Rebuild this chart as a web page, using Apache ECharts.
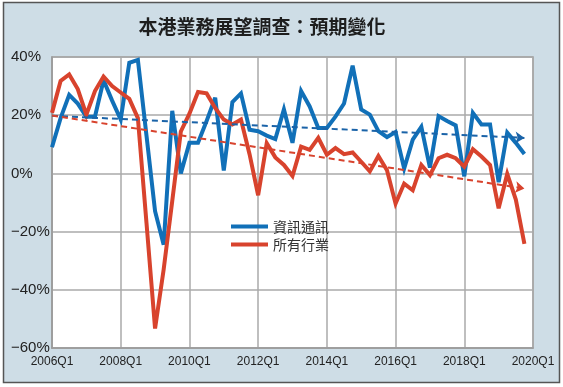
<!DOCTYPE html>
<html>
<head>
<meta charset="utf-8">
<script src="https://cdn.jsdelivr.net/npm/echarts@6/dist/echarts.min.js"></script>
<style>
html,body{margin:0;padding:0;background:#fff;}
#chart{width:563px;height:387px;}
</style>
</head>
<body>
<div id="chart"></div>
<script>
const categories = [
 '2006Q1','2006Q2','2006Q3','2006Q4','2007Q1','2007Q2','2007Q3','2007Q4',
 '2008Q1','2008Q2','2008Q3','2008Q4','2009Q1','2009Q2','2009Q3','2009Q4',
 '2010Q1','2010Q2','2010Q3','2010Q4','2011Q1','2011Q2','2011Q3','2011Q4',
 '2012Q1','2012Q2','2012Q3','2012Q4','2013Q1','2013Q2','2013Q3','2013Q4',
 '2014Q1','2014Q2','2014Q3','2014Q4','2015Q1','2015Q2','2015Q3','2015Q4',
 '2016Q1','2016Q2','2016Q3','2016Q4','2017Q1','2017Q2','2017Q3','2017Q4',
 '2018Q1','2018Q2','2018Q3','2018Q4','2019Q1','2019Q2','2019Q3','2019Q4',
 '2020Q1'
];
const ictValues = [
 9.0, 19, 27, 24, 19.5, 19.5, 32, 25,
 18.5, 38, 39, 13, -13, -24.5, 21.5, 0,
 10.5, 10.5, 18, 26, 1, 24.5, 27.5, 15,
 14.5, 13, 11.8, 22, 10.5, 28.3, 23, 15.6,
 15.6, 19.5, 24, 37, 22, 20.2, 14.5, 12.5,
 14.2, 1.7, 11.6, 16, 2, 19.7, 18, 16.5,
 -1, 20.8, 16.8, 16.8, -3, 14, 10.5, 6.7
];
const allValues = [
 20.8, 31.8, 34, 29, 20.2, 28.3, 33.3, 30,
 27.8, 25.6, 19, -17, -53.3, -33, -9.5, 14.4,
 20.5, 28, 27.5, 22.5, 18.5, 16.8, 18.5, 6.6,
 -7.5, 10.4, 5.5, 2.9, -0.9, 9.2, 8.1, 12.2,
 6.4, 8.7, 6.6, 7.2, 4, 0.7, 6, 1.1,
 -10.4, -3.5, -5.8, 2.9, -0.6, 5.2, 6.4, 5.2,
 2.3, 8.3, 5.8, 2.9, -12, -0.2, -9, -24.2
];
const ictTrend = [19.8, 12.2];
const allTrend = [19.9, -5.2];
const seriesNames = ['資訊通訊', '所有行業'];
const titleText = '本港業務展望調查：預期變化';

const chart = echarts.init(document.getElementById('chart'), null, {renderer: 'canvas'});

function trendLine(vals, color) {
  return {
    silent: true,
    symbol: ['none', 'arrow'],
    symbolSize: 9,
    label: {show: false},
    emphasis: {disabled: true},
    lineStyle: {type: [6, 4], width: 2, color: color},
    data: [[{coord: [categories[0], vals[0]]}, {coord: [categories[55], vals[1]]}]]
  };
}

chart.setOption({
  animation: false,
  backgroundColor: 'transparent',
  graphic: [
    {type: 'rect', z: -100, shape: {x: 3.5, y: 2.5, width: 556, height: 380},
     style: {fill: '#cedde6', stroke: '#555', lineWidth: 1.5}},
    {type: 'text', z: 100, x: 262, y: 27,
     style: {text: titleText, fill: '#1e1e1e', font: 'bold 19px "Noto Sans CJK TC"',
             textAlign: 'center', textVerticalAlign: 'middle'}}
  ],
  grid: {left: 52, right: 30, top: 57, bottom: 39, show: true, backgroundColor: '#fff',
         borderColor: '#9a9a9a', borderWidth: 1.5},
  legend: {
    orient: 'vertical', left: 226, top: 214.5, itemWidth: 37, itemHeight: 4, itemGap: 4,
    icon: 'rect',
    textStyle: {fontFamily: 'Noto Sans CJK TC', fontSize: 14, color: '#333'},
    data: seriesNames
  },
  xAxis: {
    type: 'category', data: categories, boundaryGap: false,
    axisLine: {onZero: false, lineStyle: {color: '#9a9a9a', width: 1.5}},
    axisTick: {show: false, interval: 7},
    axisLabel: {interval: 7, fontFamily: 'Liberation Sans', fontSize: 12, color: '#222', margin: 8},
    splitLine: {show: true, interval: 7, lineStyle: {color: '#aaa', width: 1.5}}
  },
  yAxis: {
    type: 'value', min: -60, max: 40, interval: 20,
    axisLine: {show: true, lineStyle: {color: '#9a9a9a', width: 1.5}},
    axisTick: {show: false},
    axisLabel: {
      align: 'left', margin: 41, fontFamily: 'Liberation Sans', fontSize: 15, color: '#222',
      formatter: v => (v < 0 ? '\u2212' + Math.abs(v) : v) + '%'
    },
    splitLine: {show: true, lineStyle: {color: '#aaa', width: 1.5}}
  },
  series: [
    {name: seriesNames[0], type: 'line', data: ictValues, symbol: 'none', color: '#1170b8',
     lineStyle: {width: 4, color: '#1170b8', join: 'miter', miterLimit: 4},
     markLine: trendLine(ictTrend, '#1a63a8')},
    {name: seriesNames[1], type: 'line', data: allValues, symbol: 'none', color: '#d8432d',
     lineStyle: {width: 4, color: '#d8432d', join: 'miter', miterLimit: 4},
     markLine: trendLine(allTrend, '#d8432d')}
  ]
});
</script>
</body>
</html>
